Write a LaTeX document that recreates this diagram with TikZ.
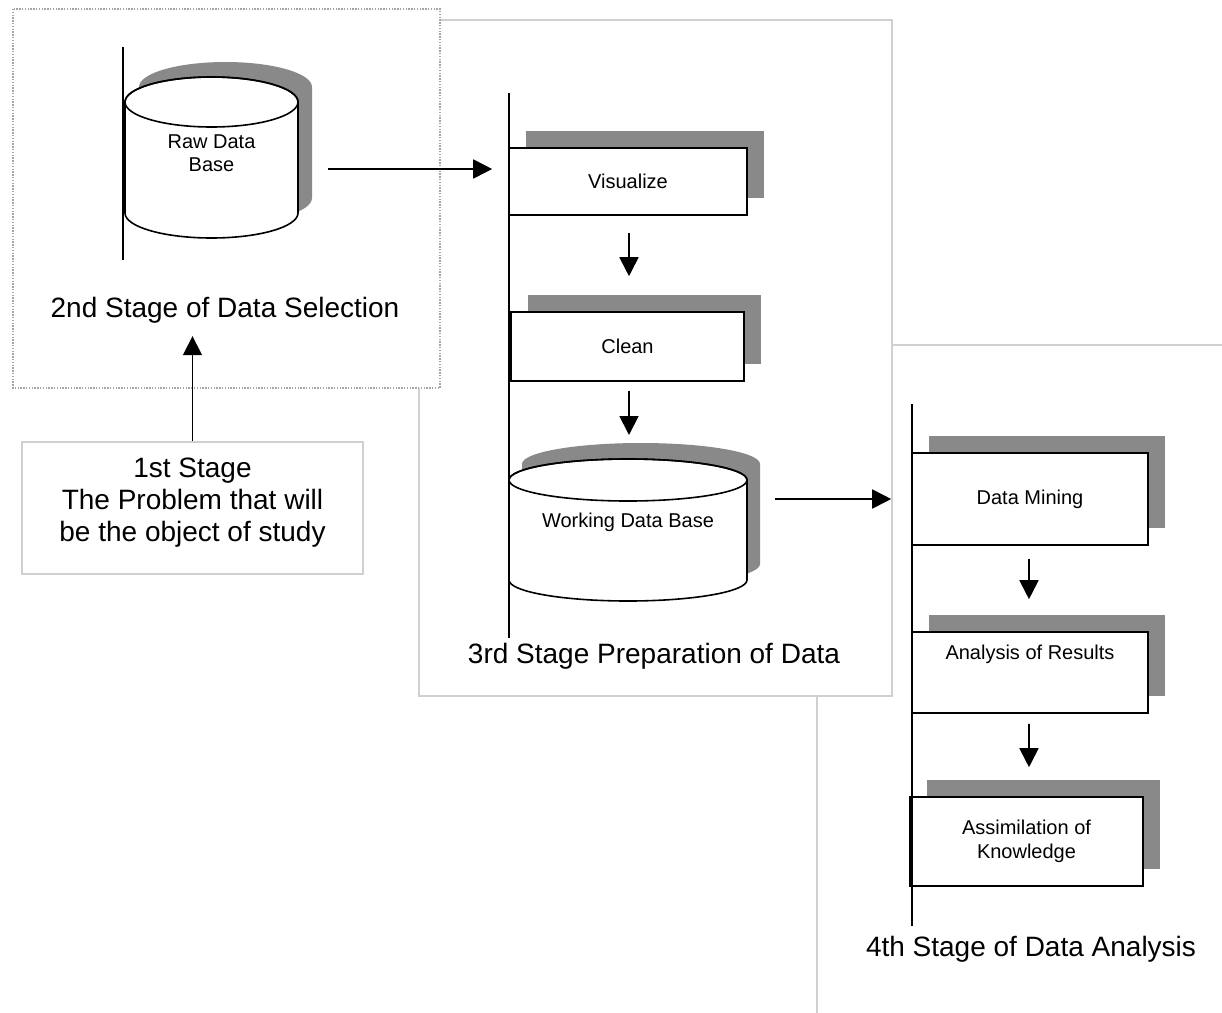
\documentclass[tikz,border=0pt]{standalone}
\usepackage{fontspec}
\setmainfont{Liberation Sans}
\usetikzlibrary{arrows.meta,shadows,calc}
\definecolor{shadowgray}{RGB}{137,137,137}
\definecolor{panelgray}{RGB}{208,208,208}
\definecolor{dotgray}{RGB}{165,165,165}
\newcommand{\mycyl}[7]{%
  \fill[shadowgray] ({#1-#4+#6},{#2+#7}) -- ({#1-#4+#6},{#3+#7})
    arc[start angle=180,end angle=0,x radius=#4,y radius=#5]
    -- ({#1+#4+#6},{#2+#7})
    arc[start angle=0,end angle=-180,x radius=#4,y radius=#5] -- cycle;
  \filldraw[cylfill] ({#1-#4},#2) -- ({#1-#4},#3)
    arc[start angle=180,end angle=0,x radius=#4,y radius=#5]
    -- ({#1+#4},#2)
    arc[start angle=0,end angle=-180,x radius=#4,y radius=#5] -- cycle;
  \draw[line width=1.6bp] (#1,#2) ellipse[x radius=#4, y radius=#5];
}
\begin{document}
\begin{tikzpicture}[x=1bp,y=-1bp,
  panel/.style={draw=panelgray, line width=1.6bp, fill=white},
  dotpanel/.style={draw=dotgray, line width=1.4bp, dash pattern=on 1.4bp off 1.4bp, fill=white},
  procbox/.style={draw=black, line width=1.6bp, fill=white,
    font=\fontsize{20bp}{24bp}\selectfont, align=center, inner sep=0pt,
    drop shadow={shadow xshift=17bp, shadow yshift=17bp, opacity=1, fill=shadowgray}},
  lane/.style={draw=black, line width=1.8bp},
  arr/.style={line width=1.8bp, -{Triangle[length=19bp,width=19bp]}},
  biglabel/.style={font=\fontsize{28bp}{32bp}\selectfont, inner sep=0pt, anchor=base},
  dblabel/.style={font=\fontsize{20bp}{23bp}\selectfont, align=center, inner sep=0pt},
  cylfill/.style={fill=white, draw=black, line width=1.6bp},
  stagebox/.style={draw=panelgray, line width=1.6bp, fill=white, inner sep=0pt},
]
\useasboundingbox (0,0) rectangle (1222,1013);
\fill[white] (0,0) rectangle (1222,1013);

% panels (back to front)
\draw[panel] (817,345) rectangle (1240,1030);
\draw[panel] (419,20) rectangle (892,696);
\draw[dotpanel] (13,9) rectangle (440,388);

% 1st stage
\node[stagebox, minimum width=341bp, minimum height=132bp] (s1) at (192.5,508) {};
\node[font=\fontsize{28bp}{32bp}\selectfont, align=center, inner sep=0pt] (s1txt) at (192.5,503)
  {1st Stage\\The Problem that will\\be the object of study};

% 2nd stage
\mycyl{211.5}{102}{213}{86.5}{25}{14}{-15}
\node[dblabel, minimum width=173bp, minimum height=160bp] (raw) at (211.5,153) {Raw Data\\Base};
\coordinate (l2t) at (123,47);
\coordinate (l2b) at (123,260);
\draw[lane] (l2t) -- (l2b);
\node[biglabel] (s2lbl) at (225,317) {2nd Stage of Data Selection};

% 3rd stage
\node[procbox, minimum width=238bp, minimum height=67bp] (vis) at (628,181.5) {Visualize};
\node[procbox, minimum width=233bp, minimum height=69bp] (clean) at (627.5,346.5) {Clean};
\mycyl{628}{480}{580}{119}{21}{13}{-16}
\node[dblabel, minimum width=238bp, minimum height=142bp] (wdb) at (628,522) {Working Data Base};
\coordinate (l3t) at (509,93);
\coordinate (l3b) at (509,638);
\draw[lane] (l3t) -- (l3b);
\node[biglabel] (s3lbl) at (654,663) {3rd Stage Preparation of Data};

% 4th stage
\node[procbox, minimum width=236bp, minimum height=92bp] (dm) at (1030,499) {Data Mining};
\node[procbox, minimum width=236bp, minimum height=81bp, text height=14bp, text depth=41bp] (ar) at (1030,672.5) {Analysis of Results};
\node[procbox, minimum width=233bp, minimum height=89bp] (ak) at (1026.5,841.5) {Assimilation of\\Knowledge};
\coordinate (l4t) at (912,404);
\coordinate (l4b) at (912,926);
\draw[lane] (l4t) -- (l4b);
\node[biglabel] (s4lbl) at (1031,956) {4th Stage of Data Analysis};

% connectors
\draw[arr] (s1.north) -- ([yshift=105bp]s1.north);
\draw[arr] ([xshift=30bp,yshift=-16bp]raw.east) -- ([xshift=-16bp,yshift=12.5bp]vis.west);
\draw[arr] ([xshift=1bp,yshift=-17bp]vis.south) -- ([xshift=1.5bp,yshift=35bp]clean.north);
\draw[arr] ([xshift=1.5bp,yshift=-9bp]clean.south) -- ([yshift=23bp,xshift=1bp]wdb.north |- 0,458);
\draw[arr] ([xshift=28bp,yshift=23bp]wdb.east) -- ([xshift=-20bp]dm.west);
\draw[arr] ([xshift=-1bp,yshift=-13bp]dm.south) -- ([xshift=-1bp,yshift=32bp]ar.north);
\draw[arr] ([xshift=-1bp,yshift=-10bp]ar.south) -- ([xshift=2.5bp,yshift=29bp]ak.north);
\end{tikzpicture}
\end{document}
